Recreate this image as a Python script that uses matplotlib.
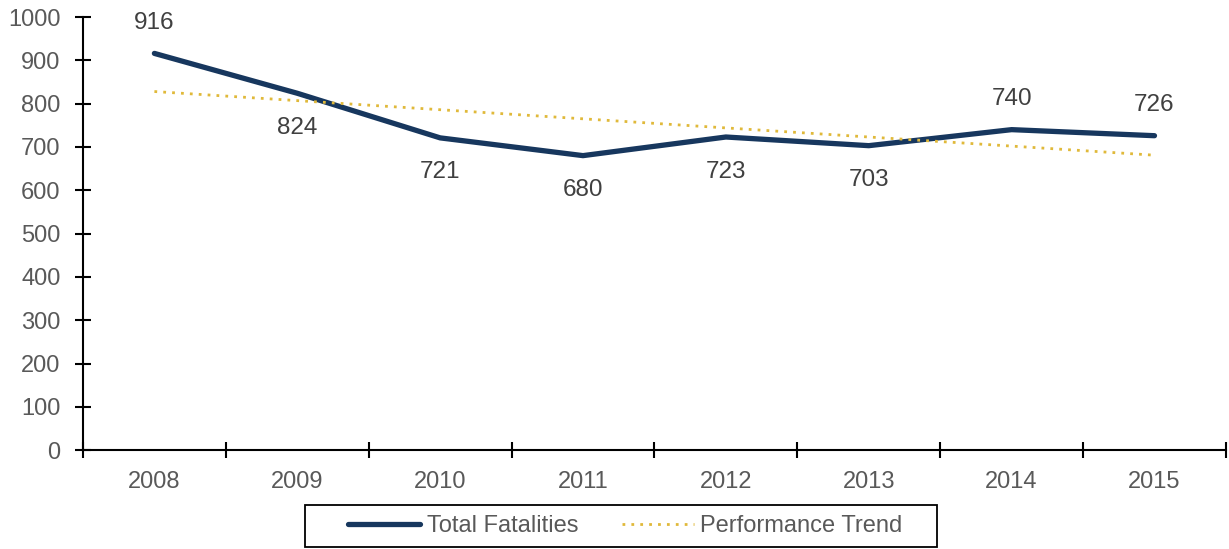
import matplotlib.pyplot as plt
from matplotlib.patches import Rectangle

years = ["2008", "2009", "2010", "2011", "2012", "2013", "2014", "2015"]
fatalities = [916, 824, 721, 680, 723, 703, 740, 726]
# trend line endpoints (2008 and 2015)
trend_years = [0, 7]
trend_values = [828, 681]
label_above = [True, False, False, False, False, False, True, True]

plt.rcParams['font.family'] = ['Liberation Sans', 'DejaVu Sans']

fig = plt.figure(figsize=(12.29, 5.49), dpi=100)
ax = fig.add_axes([0.0675, 0.180, 0.930, 0.789])

x = list(range(len(years)))
ax.plot(x, fatalities, color='#17375e', linewidth=3.8, solid_capstyle='round',
        label='Total Fatalities')
ax.plot(trend_years, trend_values, color='#e0b93a', linewidth=2.0,
        linestyle=(0, (1, 2.2)), label='Performance Trend')

for xi, v, up in zip(x, fatalities, label_above):
    ax.annotate(str(v), (xi, v), xytext=(0, 14 if up else -17),
                textcoords='offset points', ha='center',
                va='bottom' if up else 'top', fontsize=17.5, color='#404040')

ax.set_xlim(-0.5, len(years) - 0.5)
ax.set_ylim(0, 1000)
ax.set_yticks(range(0, 1001, 100))
ax.set_xticks([i - 0.5 for i in range(len(years) + 1)])
ax.set_xticklabels([])
ax.set_xticks(x, minor=True)
ax.set_xticklabels(years, minor=True)
ax.tick_params(axis='x', which='minor', length=0, pad=15, labelsize=17,
               labelcolor='#595959')
ax.tick_params(axis='x', which='major', direction='inout', length=12, width=1.5)
ax.tick_params(axis='y', direction='inout', length=12, width=1.5, pad=10,
               labelsize=17, labelcolor='#595959')

for side in ['top', 'right']:
    ax.spines[side].set_visible(False)
for side in ['left', 'bottom']:
    ax.spines[side].set_linewidth(1.5)

# legend box drawn separately, entries sit left inside it
fig.patches.append(Rectangle((305 / 1229, 2 / 549), 632 / 1229, 42 / 549,
                             transform=fig.transFigure, fill=False,
                             edgecolor='black', linewidth=1.3))
leg = fig.legend(loc='center left', bbox_to_anchor=(348 / 1229, 23 / 549), ncol=2,
                 fontsize=17, frameon=False, handlelength=3.05,
                 handletextpad=0.28, columnspacing=1.85, borderpad=0,
                 borderaxespad=0)
for t in leg.get_texts():
    t.set_color('#595959')

fig.savefig('out.png', dpi=100)
